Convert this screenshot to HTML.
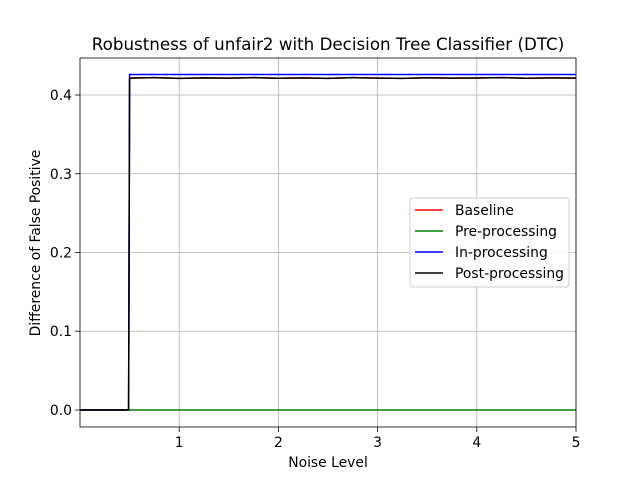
<!DOCTYPE html>
<html><head><meta charset="utf-8"><style>
body{margin:0;background:#fff;font-family:"Liberation Sans","DejaVu Sans",sans-serif}
svg text{font-family:"DejaVu Sans","Liberation Sans",sans-serif}
</style></head><body>
<svg id="c" width="640" height="480"></svg>
<script>
const xTicks=[1,2,3,4,5];
const yTicks=[0.0,0.1,0.2,0.3,0.4];
const yTickLabels=["0.0","0.1","0.2","0.3","0.4"];
const baseX=[0,0.49,0.5,0.75,1,1.25,1.5,1.75,2,2.25,2.5,2.75,3,3.25,3.5,3.75,4,4.25,4.5,4.75,5];
const baseY=[0,0,0.4215,0.422,0.4212,0.4218,0.4214,0.4221,0.4213,0.4217,0.4211,0.422,0.4215,0.4212,0.4219,0.4214,0.4216,0.4221,0.4213,0.4217,0.4215];
const preX=[0,5];
const preY=[0,0];
const inX=[0,0.49,0.5,5];
const inY=[0,0,0.426,0.426];
const postX=[0,0.49,0.5,0.75,1,1.25,1.5,1.75,2,2.25,2.5,2.75,3,3.25,3.5,3.75,4,4.25,4.5,4.75,5];
const postY=[0,0,0.4215,0.422,0.4212,0.4218,0.4214,0.4221,0.4213,0.4217,0.4211,0.422,0.4215,0.4212,0.4219,0.4214,0.4216,0.4221,0.4213,0.4217,0.4215];
const L=80,R=576,T=58,B=427;
const xs=v=>L+(v-0)/(5-0)*(R-L);
const ys=v=>B-(v-(-0.0216))/(0.447-(-0.0216))*(B-T);
const NS="http://www.w3.org/2000/svg";
const svg=document.getElementById('c');
function mk(t,a,p){const e=document.createElementNS(NS,t);for(const k in a)e.setAttribute(k,a[k]);(p||svg).appendChild(e);return e;}
xTicks.forEach(v=>{const g=mk('line',{x1:xs(v),x2:xs(v),y1:T,y2:B,stroke:'#b0b0b0','stroke-width':0.8});


mk('line',{x1:xs(v),x2:xs(v),y1:B,y2:B+4.9,stroke:'#000','stroke-width':0.8});
const t=mk('text',{x:xs(v),y:B+20,'text-anchor':'middle','font-size':13.9});t.textContent=v;

});
yTicks.forEach((v,i)=>{const g=mk('line',{x1:L,x2:R,y1:ys(v),y2:ys(v),stroke:'#b0b0b0','stroke-width':0.8});


mk('line',{x1:L-4.9,x2:L,y1:ys(v),y2:ys(v),stroke:'#000','stroke-width':0.8});
const t=mk('text',{x:L-8,y:ys(v)+5,'text-anchor':'end','font-size':13.9});t.textContent=yTickLabels[i];

});
function line(X,Y,c,n){const p=mk('polyline',{points:X.map((x,i)=>xs(x)+','+ys(Y[i])).join(' '),fill:'none',stroke:c,'stroke-width':1.5});

}
line(baseX,baseY,'#ff0000','baseline-line');
line(preX,preY,'#008000','pre-processing-line');
line(inX,inY,'#0000ff','in-processing-line');
line(postX,postY,'#000000','post-processing-line');
const fr=mk('rect',{x:L,y:T,width:R-L,height:B-T,fill:'none',stroke:'#000','stroke-width':0.8});


</script>
<svg width="640" height="480" style="position:absolute;left:0;top:0">
<text x="328" y="50" text-anchor="middle" font-size="16.7">Robustness of unfair2 with Decision Tree Classifier (DTC)</text>
<text x="328" y="467" text-anchor="middle" font-size="13.9">Noise Level</text>
<text transform="translate(40,243) rotate(-90)" text-anchor="middle" font-size="13.9">Difference of False Positive</text>
<g>
<rect x="410" y="198" width="159" height="89" rx="3" fill="#fff" fill-opacity="0.8" stroke="#ccc"/>
<g><line x1="415" x2="443" y1="210" y2="210" stroke="#ff0000" stroke-width="1.5"/><text x="455" y="215" font-size="13.9">Baseline</text></g>
<g><line x1="415" x2="443" y1="231" y2="231" stroke="#008000" stroke-width="1.5"/><text x="455" y="236" font-size="13.9">Pre-processing</text></g>
<g><line x1="415" x2="443" y1="252" y2="252" stroke="#0000ff" stroke-width="1.5"/><text x="455" y="257" font-size="13.9">In-processing</text></g>
<g><line x1="415" x2="443" y1="273" y2="273" stroke="#000" stroke-width="1.5"/><text x="455" y="278" font-size="13.9">Post-processing</text></g>
</g>
</svg>
</body></html>
